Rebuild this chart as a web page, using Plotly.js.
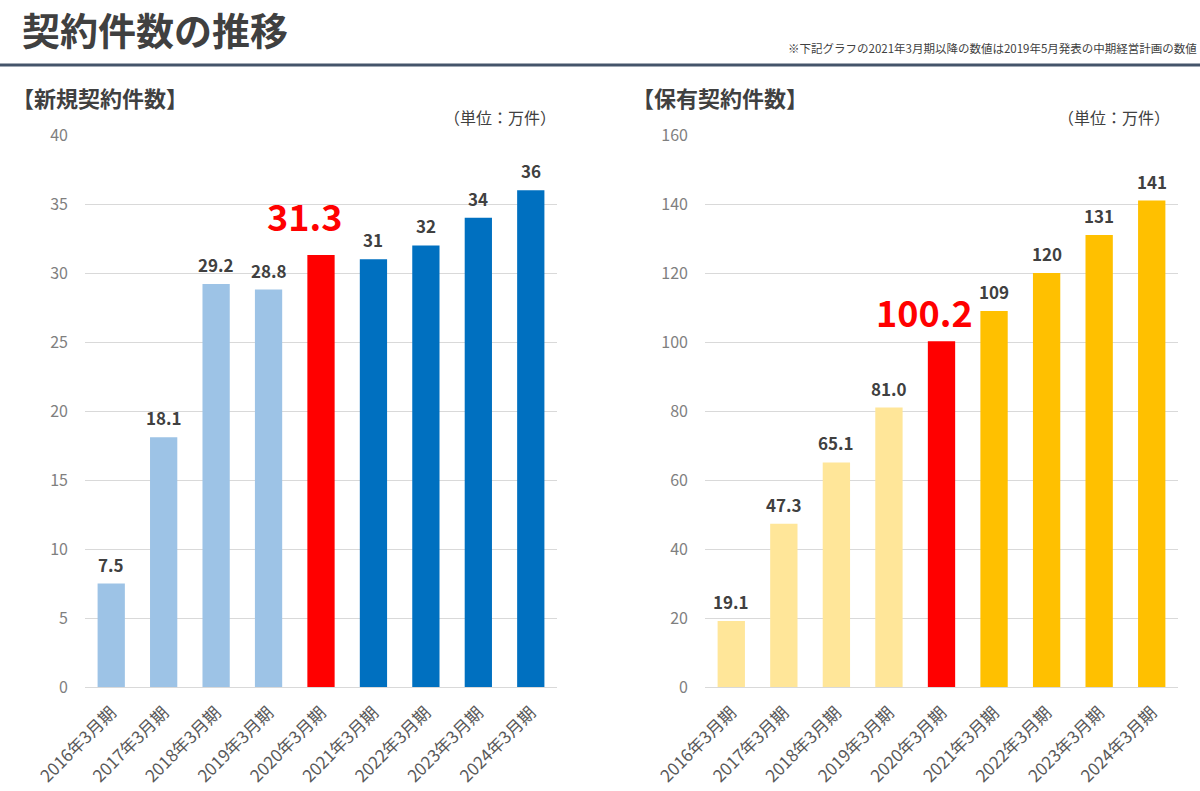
<!DOCTYPE html>
<html><head><meta charset="utf-8">
<script src="https://cdn.plot.ly/plotly-3.0.1.min.js"></script>
<style>html,body{margin:0;padding:0;background:#fff;}#chart{width:1200px;height:791px;}</style>
</head><body><div id="chart"></div>
<script>
const categories = ["2016年3月期","2017年3月期","2018年3月期","2019年3月期","2020年3月期","2021年3月期","2022年3月期","2023年3月期","2024年3月期"];
const newContracts = [7.5, 18.1, 29.2, 28.8, 31.3, 31, 32, 34, 36];
const newLabels = ["7.5","18.1","29.2","28.8","31.3","31","32","34","36"];
const heldContracts = [19.1, 47.3, 65.1, 81.0, 100.2, 109, 120, 131, 141];
const heldLabels = ["19.1","47.3","65.1","81.0","100.2","109","120","131","141"];
const newColors = ["#9DC3E6","#9DC3E6","#9DC3E6","#9DC3E6","#FF0000","#0070C0","#0070C0","#0070C0","#0070C0"];
const heldColors = ["#FFE699","#FFE699","#FFE699","#FFE699","#FF0000","#FFC000","#FFC000","#FFC000","#FFC000"];
const highlightIndex = 4;

const F = '"Noto Sans CJK JP", "Noto Sans", sans-serif';
const traces = [
  {type:'bar', x:categories, y:newContracts, marker:{color:newColors}, width:0.52, xaxis:'x', yaxis:'y', hoverinfo:'none'},
  {type:'bar', x:categories, y:heldContracts, marker:{color:heldColors}, width:0.52, xaxis:'x2', yaxis:'y2', hoverinfo:'none'}
];
const annotations = [];
function addLabels(vals, labels, xa, ya, hiShift){
  vals.forEach((v,i)=>{
    const hi = i===highlightIndex;
    annotations.push({x:categories[i], y:v, xref:xa, yref:ya, text:'<b>'+labels[i]+'</b>', showarrow:false,
      yanchor:'bottom', yshift: hi?hiShift:5, xshift: hi?-17:0,
      font:{family:F, size: hi?36:17, color: hi?'#FF0000':'#404040'}});
  });
}
addLabels(newContracts, newLabels, 'x', 'y', 12);
addLabels(heldContracts, heldLabels, 'x2', 'y2', 2);
annotations.push(
  {xref:'paper', yref:'paper', x:20/1200, y:1-29/791, xanchor:'left', yanchor:'middle', showarrow:false, text:'<b>契約件数の推移</b>', font:{family:F, size:38, color:'#404040'}},
  {xref:'paper', yref:'paper', x:1199/1200, y:1-48/791, xanchor:'right', yanchor:'middle', showarrow:false, text:'※下記グラフの2021年3月期以降の数値は2019年5月発表の中期経営計画の数値', font:{family:F, size:11.5, color:'#404040'}},
  {xref:'paper', yref:'paper', x:10/1200, y:1-97/791, xanchor:'left', yanchor:'middle', showarrow:false, text:'<b>【新規契約件数】</b>', font:{family:F, size:22, color:'#404040'}},
  {xref:'paper', yref:'paper', x:630/1200, y:1-97/791, xanchor:'left', yanchor:'middle', showarrow:false, text:'<b>【保有契約件数】</b>', font:{family:F, size:22, color:'#404040'}},
  {xref:'paper', yref:'paper', x:558/1200, y:1-117/791, xanchor:'right', yanchor:'middle', showarrow:false, text:'（単位：万件）', font:{family:F, size:16, color:'#404040'}},
  {xref:'paper', yref:'paper', x:1172/1200, y:1-117/791, xanchor:'right', yanchor:'middle', showarrow:false, text:'（単位：万件）', font:{family:F, size:16, color:'#404040'}}
);
const yd = [(791-687)/791, (791-135)/791];
const axCommon = {tickangle:-45, tickfont:{family:F, size:17, color:'#595959'}, ticklabelstandoff:8, showgrid:false, showline:true, linecolor:'#D9D9D9', linewidth:1, ticks:'', fixedrange:true};
const yCommon = {showgrid:true, gridcolor:'#D9D9D9', gridwidth:1, zeroline:false, showline:false, tickfont:{family:F, size:16, color:'#7F7F7F'}, ticks:'', ticklabelstandoff:16, fixedrange:true};
const layout = {
  width:1200, height:791, margin:{l:0,r:0,t:0,b:0}, paper_bgcolor:'#fff', plot_bgcolor:'#fff', showlegend:false,
  xaxis:Object.assign({domain:[85/1200,557/1200], anchor:'y'}, axCommon),
  xaxis2:Object.assign({domain:[705/1200,1178/1200], anchor:'y2'}, axCommon),
  yaxis:Object.assign({domain:yd, range:[0,40], dtick:5, anchor:'x'}, yCommon),
  yaxis2:Object.assign({domain:yd, range:[0,160], dtick:20, anchor:'x2'}, yCommon),
  annotations:annotations,
  shapes:[{type:'line', xref:'paper', yref:'paper', x0:0, x1:1, y0:1-65/791, y1:1-65/791, line:{color:'#44546A', width:3}}]
};
Plotly.newPlot('chart', traces, layout, {displayModeBar:false, staticPlot:true});
</script></body></html>
